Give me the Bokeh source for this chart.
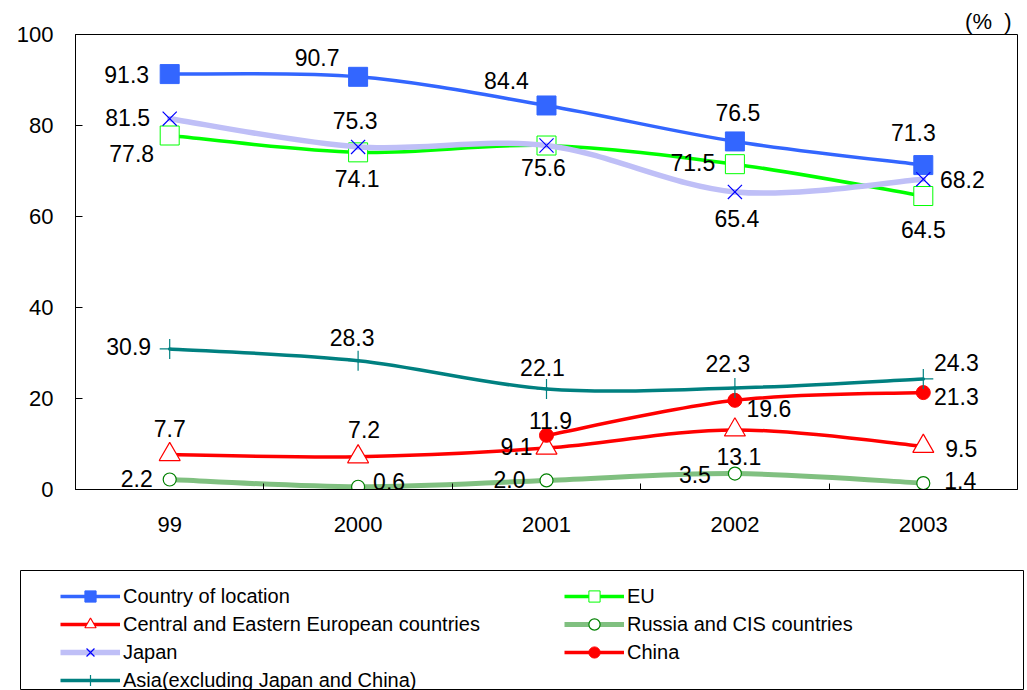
from bokeh.plotting import figure
from bokeh.models import Range1d, FixedTicker, Legend, LegendItem, ColumnDataSource
from bokeh.embed import file_html
from bokeh.resources import INLINE
from bokeh.core.properties import value

# ---------------- data ----------------
years = ["99", "2000", "2001", "2002", "2003"]
country = [91.3, 90.7, 84.4, 76.5, 71.3]
eu = [77.8, 74.1, 75.6, 71.5, 64.5]
cee = [7.7, 7.2, 9.1, 13.1, 9.5]
russia = [2.2, 0.6, 2.0, 3.5, 1.4]
japan = [81.5, 75.3, 75.6, 65.4, 68.2]
china = [None, None, 11.9, 19.6, 21.3]
asia = [30.9, 28.3, 22.1, 22.3, 24.3]
yticks = [0, 20, 40, 60, 80, 100]

names = ["Country of location", "EU", "Central and Eastern European countries",
         "Russia and CIS countries", "Japan", "China", "Asia(excluding Japan and China)"]
series_values = [country, eu, cee, russia, japan, china, asia]

# ---------------- styles (not data) ----------------
styles = [
    dict(color="#3366FF", lw=3.5, marker="square", size=19, mline="#3366FF", mfill="#3366FF", mlw=1),
    dict(color="#00FF00", lw=3.5, marker="square", size=19, mline="#00FF00", mfill="white", mlw=1),
    dict(color="#FF0000", lw=3.5, marker="triangle", size=21, mline="#FF0000", mfill="white", mlw=1.2),
    dict(color="#80C080", lw=5, marker="circle", size=13, mline="#008000", mfill="white", mlw=1.2),
    dict(color="#BFBFF7", lw=5.5, marker="x", size=20, mline="#0000FF", mfill=None, mlw=1.2),
    dict(color="#FF0000", lw=3.5, marker="circle", size=14, mline="#FF0000", mfill="#FF0000", mlw=1),
    dict(color="#008080", lw=3.5, marker="cross", size=20, mline="#008080", mfill=None, mlw=1.2),
]
# label offsets in px (dx, dy; dy positive = down); None = no label
offsets = [
    [(-43, 0), (-41, -19), (-40, -25), (3, -29), (-10, -33)],
    [(-38, 18), (-1, 26), (-3, 22), (-42, -2), (0, 33)],
    [(0, -26), (6, -27), (-30, -2), (4, 27), (38, 2)],
    [(-33, -1), (31, -5), (-37, -1), (-40, 1), (37, -3)],
    [(-42, -1), (-3, -26), None, (2, 27), (39, 0)],
    [None, None, (4, -15), (34, 8), (33, 4)],
    [(-41, -2), (-6, -23), (-4, -21), (-7, -25), (33, -16)],
]

FONT = "Liberation Sans"
xpos = [i + 0.5 for i in range(len(years))]

p = figure(width=1027, height=562, x_range=Range1d(0, len(years)), y_range=Range1d(0, 100),
           output_backend="svg", toolbar_location=None,
           min_border_left=75, min_border_right=10, min_border_top=34, min_border_bottom=73)
p.background_fill_color = "white"
p.border_fill_color = "white"
p.outline_line_color = "black"
p.outline_line_width = 1
p.xgrid.visible = False
p.ygrid.visible = False

p.title.text = "(%\u00a0\u00a0)"
p.title.align = "right"
p.title.offset = 6
p.title.text_font = FONT
p.title.text_font_size = "22px"
p.title.text_font_style = "normal"
p.title.text_color = "black"
p.title.standoff = 2

# axes
p.yaxis.ticker = FixedTicker(ticks=yticks)
p.yaxis.major_tick_in = 7
p.yaxis.major_tick_out = 0
p.yaxis.minor_tick_line_color = None
p.yaxis.axis_line_color = "black"
p.yaxis.major_tick_line_color = "black"
p.yaxis.major_label_standoff = 22
p.yaxis.major_label_text_font = FONT
p.yaxis.major_label_text_font_size = "22px"
p.yaxis.major_label_text_color = "black"

p.xaxis.ticker = FixedTicker(ticks=xpos, minor_ticks=[i for i in range(1, len(years))])
p.xaxis.major_label_overrides = {xv: lab for xv, lab in zip(xpos, years)}
p.xaxis.major_tick_in = 0
p.xaxis.major_tick_out = 0
p.xaxis.minor_tick_in = 6
p.xaxis.minor_tick_out = 0
p.xaxis.minor_tick_line_color = "black"
p.xaxis.axis_line_color = "black"
p.xaxis.major_label_standoff = 27
p.xaxis.major_label_text_font = FONT
p.xaxis.major_label_text_font_size = "22px"
p.xaxis.major_label_text_color = "black"


def smooth_segments(xs, ys):
    pts = [(x, y) for x, y in zip(xs, ys) if y is not None]
    d = dict(x0=[], y0=[], x1=[], y1=[], cx0=[], cy0=[], cx1=[], cy1=[])
    n = len(pts)
    for i in range(n - 1):
        p0 = pts[i - 1] if i > 0 else pts[i]
        p1 = pts[i]
        p2 = pts[i + 1]
        p3 = pts[i + 2] if i + 2 < n else pts[i + 1]
        d["x0"].append(p1[0]); d["y0"].append(p1[1])
        d["x1"].append(p2[0]); d["y1"].append(p2[1])
        d["cx0"].append(p1[0] + (p2[0] - p0[0]) / 6.0)
        d["cy0"].append(p1[1] + (p2[1] - p0[1]) / 6.0)
        d["cx1"].append(p2[0] - (p3[0] - p1[0]) / 6.0)
        d["cy1"].append(p2[1] - (p3[1] - p1[1]) / 6.0)
    return d


for vals, st in zip(series_values, styles):
    seg = ColumnDataSource(smooth_segments(xpos, vals))
    p.bezier(x0="x0", y0="y0", x1="x1", y1="y1", cx0="cx0", cy0="cy0", cx1="cx1", cy1="cy1",
             source=seg, line_color=st["color"], line_width=st["lw"], line_cap="round")
    mx = [x for x, v in zip(xpos, vals) if v is not None]
    my = [v for v in vals if v is not None]
    p.scatter(mx, my, marker=st["marker"], size=st["size"], line_color=st["mline"],
              fill_color=st["mfill"], line_width=st["mlw"])

# data labels
for vals, offs in zip(series_values, offsets):
    lx, ly, lt, dx, dy = [], [], [], [], []
    for x, v, o in zip(xpos, vals, offs):
        if v is None or o is None:
            continue
        lx.append(x); ly.append(v); lt.append("%.1f" % v); dx.append(o[0]); dy.append(o[1])
    src = ColumnDataSource(dict(x=lx, y=ly, t=lt, dx=dx, dy=dy))
    p.text(x="x", y="y", text="t", x_offset="dx", y_offset="dy", source=src,
           text_align="center", text_baseline="middle", text_color="black",
           text_font=value(FONT), text_font_size="23px")

# ---------------- legend figure ----------------
p2 = figure(width=1027, height=128, x_range=Range1d(100, 101), y_range=Range1d(0, 1),
            output_backend="svg", toolbar_location=None, x_axis_type=None, y_axis_type=None,
            min_border_left=20, min_border_right=4, min_border_top=8, min_border_bottom=1)
p2.outline_line_color = "black"
p2.outline_line_width = 1
p2.background_fill_color = "white"
p2.border_fill_color = "white"

items = []
for name, vals, st in zip(names, series_values, styles):
    mx = [x for x, v in zip(xpos, vals) if v is not None]
    my = [v for v in vals if v is not None]
    rl = p2.line(mx, my, line_color=st["color"], line_width=st["lw"])
    rm = p2.scatter(mx, my, marker=st["marker"], size=st["size"], line_color=st["mline"],
                    fill_color=st["mfill"], line_width=st["mlw"])
    items.append(LegendItem(label=name, renderers=[rl, rm]))

left_items = items[0::2]
right_items = items[1::2]


def make_legend(its, loc):
    return Legend(items=its, location=loc, orientation="vertical", padding=0, margin=0,
                  spacing=0, glyph_width=60, glyph_height=28, label_height=20,
                  label_standoff=3, border_line_color=None, background_fill_alpha=0,
                  label_text_font=FONT, label_text_font_size="20px", label_text_color="black")


p2.add_layout(make_legend(left_items, (40, -5)))
p2.add_layout(make_legend(right_items, (544, 23)))

open("out.html", "w").write(file_html([p, p2], INLINE))
